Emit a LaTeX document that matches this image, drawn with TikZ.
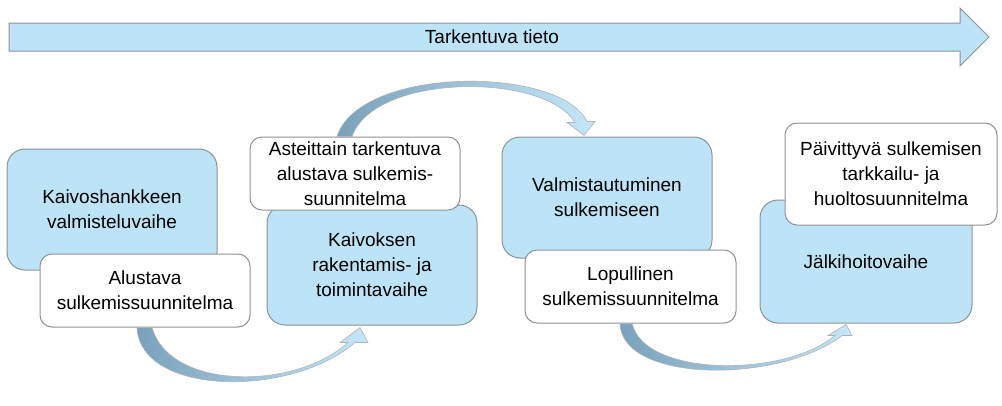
\documentclass[tikz,border=0pt]{standalone}
\usepackage{fontspec}
\setmainfont{Liberation Sans}
\usetikzlibrary{positioning,calc}

\definecolor{phasefill}{RGB}{189,227,246}
\definecolor{boxline}{RGB}{140,146,152}
\definecolor{bendstart}{RGB}{122,161,187}
\definecolor{bendend}{RGB}{196,231,249}

\tikzset{
  phase/.style={draw=boxline, fill=phasefill, rounded corners=18pt,
                minimum width=210pt, minimum height=121pt, align=center, inner sep=2pt},
  plan/.style={draw=boxline, fill=white, rounded corners=12pt,
               minimum width=210pt, minimum height=73pt, align=center, inner sep=2pt},
  swoop/.style={draw=boxline!70, line width=0.6pt, left color=bendstart, right color=bendend}
}

\begin{document}
\begin{tikzpicture}[x=1pt, y=-1pt, font=\fontsize{19}{25}\selectfont, line width=1pt]
      \useasboundingbox (0,0) rectangle (1002,405);

      \draw[draw=boxline, fill=phasefill]
            (9,23) -- (960,23) -- (960,8) -- (989,37) -- (960,66) -- (960,51) -- (9,51) -- cycle;
      \node (info) at (492,37) {Tarkentuva tieto};

      \node[phase]  (prep)   at (112,209.5)   {Kaivoshankkeen\\valmisteluvaihe};
      \node[phase, minimum height=120pt]  (oper)  at (372,265)
                                              {Kaivoksen\\rakentamis- ja\\toimintavaihe};
      \node[phase]  (close)  at (607,197.5)   {Valmistautuminen\\sulkemiseen};
      \node[phase, minimum width=212pt, minimum height=123pt]  (after)  at (866,261.5)
                                              {Jälkihoitovaihe};

      \node[plan]   (plan1)  [below of=prep, node distance=81pt, xshift=33pt]
                                              {Alustava\\sulkemissuunnitelma};
      \node[plan]   (plan2)  [above of=oper, node distance=91.5pt, xshift=-17pt]
                                              {Asteittain tarkentuva\\alustava sulkemis-\\suunnitelma};
      \node[plan, minimum width=211pt]  (plan3)  [below of=close, node distance=89pt, xshift=23.5pt]
                                              {Lopullinen\\sulkemissuunnitelma};
      \node[plan, minimum width=212pt, minimum height=102pt]  (plan4)
                      [above of=after, node distance=87.5pt, xshift=25pt]
                                              {Päivittyvä sulkemisen\\tarkkailu- ja\\huoltosuunnitelma};

      % curved arrows
      \coordinate (a1) at ($(plan1.south)+(-8,0)$);
      \coordinate (a2) at ($(plan1.south)+(7,0)$);
      \coordinate (a3) at ($(oper.south)+(-12,2)$);
      \path[swoop] (a1) .. controls ($(a1)+(3,68)$) and ($(a3)+(-70,71)$) .. ($(a3)+(-5,15)$)
            -- ($(a3)+(8,15)$) -- (a3) -- ($(a3)+(-20,15)$) -- ($(a3)+(-12,15)$)
            .. controls ($(a3)+(-65,63)$) and ($(a2)+(18,63)$) .. (a2) -- cycle;

      \coordinate (c1) at ($(plan2.north)+(-18,0)$);
      \coordinate (c2) at ($(plan2.north)+(-3,0)$);
      \coordinate (c3) at ($(close.north)+(-23,-1)$);
      \path[swoop] (c1) .. controls ($(c1)+(23,-71)$) and ($(c3)+(-24,-70)$) .. ($(c3)+(3,-14)$)
            -- ($(c3)+(11,-14)$) -- (c3) -- ($(c3)+(-17,-13)$) -- ($(c3)+(-9,-13)$)
            .. controls ($(c3)+(-39,-63)$) and ($(c2)+(23,-64)$) .. (c2) -- cycle;

      \coordinate (b1) at ($(plan3.south)+(-10.5,0)$);
      \coordinate (b2) at ($(plan3.south)+(1.5,0)$);
      \coordinate (b3) at ($(after.south)+(-20,1)$);
      \path[swoop] (b1) .. controls ($(b1)+(2,60)$) and ($(b3)+(-66,59)$) .. ($(b3)+(-4,11)$)
            -- ($(b3)+(6,11)$) -- (b3) -- ($(b3)+(-18,11)$) -- ($(b3)+(-11,11)$)
            .. controls ($(b3)+(-61,53)$) and ($(b2)+(13,54)$) .. (b2) -- cycle;
\end{tikzpicture}
\end{document}
